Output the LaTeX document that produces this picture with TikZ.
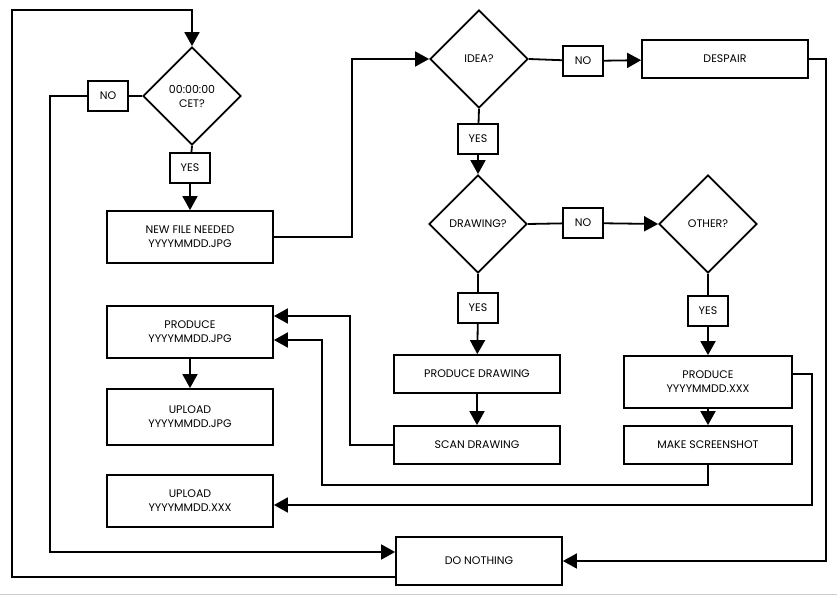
\documentclass[tikz,border=0pt]{standalone}
\usepackage{fontspec}
\setmainfont{Poppins}
\usetikzlibrary{shapes.geometric,arrows.meta}
\begin{document}
\begin{tikzpicture}[x=1pt,y=-1pt,
  every node/.style={font=\fontsize{11}{14}\selectfont, align=center, line width=1.8pt},
  box/.style={draw, minimum width=166pt, minimum height=#1, inner sep=0pt},
  box/.default=38pt,
  lab/.style={draw, minimum width=40pt, minimum height=30pt, inner sep=0pt},
  dia/.style={draw, diamond, minimum width=98pt, minimum height=98pt, inner sep=0pt},
  arr/.style={line width=1.8pt, -{Triangle[length=14pt,width=15pt]}},
  ln/.style={line width=1.8pt}]
\useasboundingbox (0,0) rectangle (837,596);
\fill[white] (0,0) rectangle (837,596);
\draw[gray!40] (0,594) -- (837,594);

\node[dia] (d1) at (192,96) {00:00:00\\CET?};
\node[lab] (no1) at (108,96) {NO};
\node[lab] (yes1) at (190,168) {YES};
\node[box=52pt] (new) at (190,237) {NEW FILE NEEDED\\YYYYMMDD.JPG};
\node[dia] (idea) at (479,59) {IDEA?};
\node[lab] (no2) at (583,61) {NO};
\node[box] (despair) at (725,59) {DESPAIR};
\node[lab] (yes2) at (478,139) {YES};
\node[dia] (draw) at (478,224) {DRAWING?};
\node[lab] (no3) at (583,223) {NO};
\node[dia] (other) at (708,224) {OTHER?};
\node[lab] (yes3) at (478,308) {YES};
\node[lab] (yes4) at (708,311) {YES};
\node[box=52pt,minimum width=168pt] (px) at (708,382) {PRODUCE\\YYYYMMDD.XXX};
\node[box,minimum width=168pt] (shot) at (708,445) {MAKE SCREENSHOT};
\node[box] (pd) at (477,374) {PRODUCE DRAWING};
\node[box] (scan) at (477,445) {SCAN DRAWING};
\node[box=52pt] (pj) at (190,332) {PRODUCE\\YYYYMMDD.JPG};
\node[box=56pt] (uj) at (190,417) {UPLOAD\\YYYYMMDD.JPG};
\node[box=52pt] (ux) at (190,501) {UPLOAD\\YYYYMMDD.XXX};
\node[box=48pt] (dn) at (479,561) {DO NOTHING};

\coordinate (c1) at (12,10);
\draw[arr] ([yshift=-16pt]dn.west) -| (c1) -| (d1.north);
\draw[ln] (d1.west) -- (no1);
\draw[arr] (no1.west) -| (50,300) |- ([yshift=9pt]dn.west);
\draw[ln] (d1.south) -- (yes1);
\draw[arr] (yes1) -- (new);
\draw[arr] (new.east) -| (352,150) |- (idea.west);
\draw[ln] (idea.east) -- (no2);
\draw[arr] (no2) -- (despair);
\draw[arr] (despair.east) -| (826,300) |- (dn.east);
\draw[ln] (idea.south) -- (yes2);
\draw[arr] (yes2) -- (draw.north);
\draw[ln] (draw.east) -- (no3);
\draw[arr] (no3) -- (other.west);
\draw[ln] (draw.south) -- (yes3);
\draw[arr] (yes3) -- (pd);
\draw[arr] (pd) -- (scan);
\draw[arr] (scan.west) -| (350,380) |- ([yshift=16pt]pj.east);
\draw[ln] (other.south) -- (yes4);
\draw[arr] (yes4) -- (px);
\draw[arr] (px) -- (shot);
\draw[arr] (shot.south) |- (322,485) |- ([yshift=-8pt]pj.east);
\draw[arr] ([yshift=8pt]px.east) -| (812,440) |- ([yshift=-4pt]ux.east);
\draw[arr] (pj) -- (uj);
\end{tikzpicture}
\end{document}
